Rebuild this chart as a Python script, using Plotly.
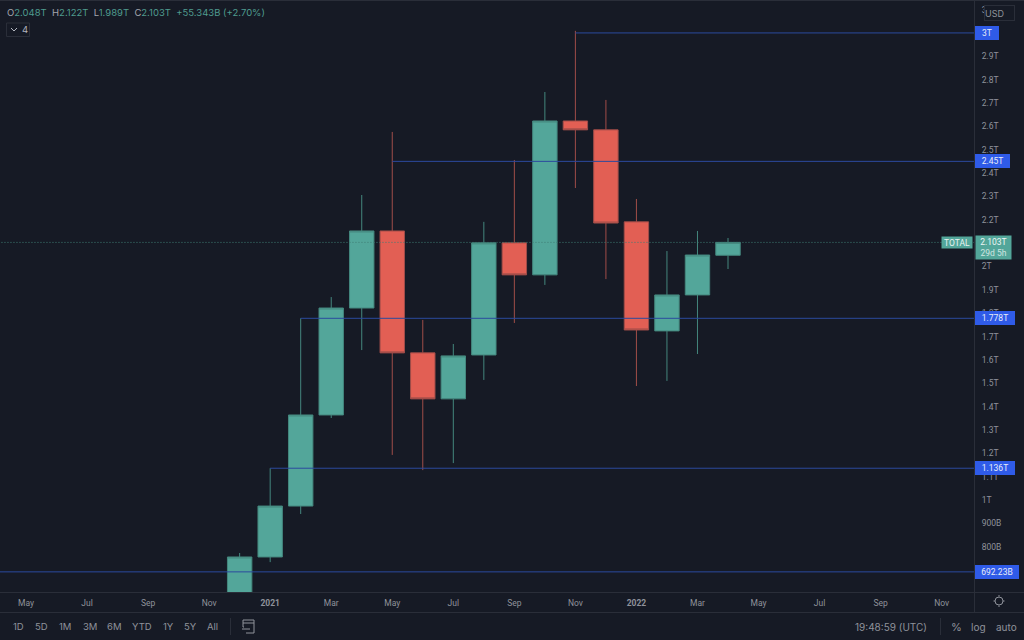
import plotly.graph_objects as go

# meses visibles en el eje
months = ["2020-04", "2020-05", "2020-06", "2020-07", "2020-08", "2020-09", "2020-10", "2020-11", "2020-12",
          "2021-01", "2021-02", "2021-03", "2021-04", "2021-05", "2021-06", "2021-07", "2021-08",
          "2021-09", "2021-10", "2021-11", "2021-12", "2022-01", "2022-02", "2022-03", "2022-04",
          "2022-05", "2022-06", "2022-07", "2022-08", "2022-09", "2022-10", "2022-11", "2022-12",
          "2023-01"]

# velas mensuales, en miles de millones (B)
candle_months = ["2020-12", "2021-01", "2021-02", "2021-03", "2021-04", "2021-05", "2021-06", "2021-07", "2021-08",
                 "2021-09", "2021-10", "2021-11", "2021-12", "2022-01", "2022-02", "2022-03", "2022-04"]
opens = [590, 756, 974, 1364, 1822, 2152, 1630, 1433, 1621, 2101, 1964, 2623, 2585, 2191, 1724, 1878, 2048]
highs = [773, 1136, 1778, 1869, 2306, 2576, 1771, 1668, 2191, 2456, 2747, 3009, 2713, 2289, 2066, 2152, 2122]
lows = [580, 734, 940, 1351, 1642, 1193, 1128, 1158, 1514, 1758, 1921, 2336, 1946, 1488, 1510, 1625, 1989]
closes = [756, 974, 1364, 1822, 2152, 1630, 1433, 1617, 2101, 1964, 2623, 2585, 2186, 1728, 1878, 2049, 2103]

# niveles horizontales
level_starts = ["2021-11", "2021-05", "2021-02", "2021-01", "2020-04"]
level_values = [3000, 2450, 1778, 1136, 692.23]
level_labels = ["3T", "2.45T", "1.778T", "1.136T", "692.23B"]
level_widths = [22, 33, 38, 38, 42]

# ejes
y_ticks = [800, 900, 1000, 1100, 1200, 1300, 1400, 1500, 1600, 1700, 1800, 1900, 2000,
           2200, 2300, 2400, 2500, 2600, 2700, 2800, 2900, 3000, 3100]
y_labels = ["800B", "900B", "1T", "1.1T", "1.2T", "1.3T", "1.4T", "1.5T", "1.6T", "1.7T", "1.8T", "1.9T", "2T",
            "2.2T", "2.3T", "2.4T", "2.5T", "2.6T", "2.7T", "2.8T", "2.9T", "3T", "3"]
x_ticks = ["2020-05", "2020-07", "2020-09", "2020-11", "2021-01", "2021-03", "2021-05", "2021-07",
           "2021-09", "2021-11", "2022-01", "2022-03", "2022-05", "2022-07", "2022-09", "2022-11"]
x_labels = ["May", "Jul", "Sep", "Nov", "<b>2021</b>", "Mar", "May", "Jul",
            "Sep", "Nov", "<b>2022</b>", "Mar", "May", "Jul", "Sep", "Nov"]

last_price = 2103
range_buttons = ["1D", "5D", "1M", "3M", "6M", "YTD", "1Y", "5Y", "All"]
range_button_x = [18, 41, 65, 90, 114, 142, 168, 190, 212]

BG = "#161a25"
BORDER = "#2a2e39"
GREEN = "#53a69a"
GREEN_W = "#44877e"
RED = "#e25f54"
RED_W = "#a04d49"
BLUE = "#2f5be8"
LEVEL = "#2b4a9e"
GREY = "#8f929b"
FONT = "Inter"
AXIS_FONT = "Roboto"

W, H = 1024, 640
PW, PH = 974, 592


def px(x):
    return x / PW


def py(y):
    return 1 - y / PH


fig = go.Figure()

fig.add_trace(go.Candlestick(
    x=candle_months, open=opens, high=highs, low=lows, close=closes,
    increasing=dict(fillcolor=GREEN, line=dict(color=GREEN_W, width=1)),
    decreasing=dict(fillcolor=RED, line=dict(color=RED_W, width=1)),
    whiskerwidth=0, showlegend=False,
))

# niveles
for start, val in zip(level_starts, level_values):
    fig.add_trace(go.Scatter(x=[start, months[-1]], y=[val, val], mode="lines",
                             line=dict(color=LEVEL, width=1), showlegend=False))

# precio actual
fig.add_trace(go.Scatter(x=[months[0], months[-1]], y=[last_price, last_price], mode="lines",
                         line=dict(color="#3f7d75", width=1, dash="1px,2px"), showlegend=False))


def note(x, y, text, color=GREY, size=9, anchor="left", family=FONT, **kw):
    fig.add_annotation(xref="paper", yref="paper", x=px(x), y=py(y), text=text, showarrow=False,
                       xanchor=anchor, yanchor="middle", font=dict(family=family, size=size, color=color), **kw)


def seg(x0, y0, x1, y1, color=BORDER, width=1):
    fig.add_shape(type="line", xref="paper", yref="paper", x0=px(x0), y0=py(y0), x1=px(x1), y1=py(y1),
                  line=dict(color=color, width=width), layer="above")


def poly(points, color=GREY, width=1):
    path = "M " + " L ".join(f"{px(a)} {py(b)}" for a, b in points)
    fig.add_shape(type="path", xref="paper", yref="paper", path=path, line=dict(color=color, width=width), layer="above")


# marcos
seg(0, 0.5, W, 0.5)
seg(PW + 0.5, 0, PW + 0.5, 612)
seg(0, PH + 0.5, W, PH + 0.5)
seg(0, 612.5, W, 612.5)

# etiquetas de nivel
for val, lab, w in zip(level_values, level_labels, level_widths):
    fig.add_annotation(xref="paper", yref="y", x=px(975), y=val, text=lab, showarrow=False,
                       xanchor="left", yanchor="middle", width=w, height=12, align="center",
                       bgcolor=BLUE, bordercolor=BLUE, borderpad=0,
                       font=dict(family=AXIS_FONT, size=8.5, color="#e8ecf8"))

# etiqueta TOTAL y precio
fig.add_annotation(xref="paper", yref="y", x=px(973), y=last_price, text="TOTAL", showarrow=False,
                   xanchor="right", yanchor="middle", width=30, height=11, bgcolor=GREEN, borderpad=0,
                   font=dict(family=AXIS_FONT, size=8.5, color="#e8f3f1"))
note(975, 248, "2.103T<br><span style='color:#cfe5e1'>29d 5h</span>", color="#eef6f4", size=8.5,
     family=AXIS_FONT, width=35, height=23, bgcolor=GREEN, align="center", borderpad=0)

# cabecera
g = "#4f9c8f"
header = (f"O<span style='color:{g}'>2.048T</span>  H<span style='color:{g}'>2.122T</span>  "
          f"L<span style='color:{g}'>1.989T</span>  C<span style='color:{g}'>2.103T</span>  "
          f"<span style='color:{g}'>+55.343B (+2.70%)</span>")
note(5, 13, header, color="#a3a6af", size=9.5)

# botón de indicadores
fig.add_shape(type="rect", xref="paper", yref="paper", x0=px(6.5), y0=py(23), x1=px(29.5), y1=py(36.5),
              line=dict(color=BORDER, width=1), layer="above")
poly([(11, 28), (14, 31), (17, 28)], color="#b2b5be")
note(20, 30, "4", color="#b2b5be", size=9.5)

# botón USD
fig.add_annotation(xref="paper", yref="paper", x=px(984.5), y=py(12.5), text="USD", showarrow=False,
                   xanchor="left", yanchor="middle", width=29, height=14, align="left", bgcolor=BG,
                   bordercolor=BORDER, borderpad=0, font=dict(family=FONT, size=9, color=GREY))
poly([(1007.5, 11.5), (1009.5, 13.5), (1011.5, 11.5)], color=GREY)

# barra inferior
for lab, x in zip(range_buttons, range_button_x):
    note(x, 626.5, lab, anchor="center", size=9.5)
seg(230.5, 618, 230.5, 635)
poly([(244, 627), (243, 627), (243, 620), (254, 620), (254, 633), (246, 633)], color=GREY)
seg(243, 623, 254, 623, color=GREY)
poly([(242, 629), (250, 629)], color=GREY)
note(891, 626.5, "19:48:59 (UTC)", anchor="center", size=10)
seg(940.5, 618, 940.5, 635)
note(956, 626.5, "%", anchor="center", size=11)
note(978, 626.5, "log", anchor="center", size=10)
note(1006, 626.5, "auto", anchor="center", size=10)

# icono de ajustes
fig.add_shape(type="circle", xref="paper", yref="paper", x0=px(995), y0=py(597), x1=px(1003), y1=py(605),
              line=dict(color=GREY, width=1), layer="above")
for a, b, c, d in [(999, 595, 999, 596.5), (999, 605.5, 999, 607), (993.5, 601, 995, 601), (1003, 601, 1004.5, 601)]:
    seg(a, b, c, d, color=GREY)

fig.update_layout(
    width=W, height=H,
    margin=dict(l=0, r=W - PW, t=0, b=H - PH, pad=0),
    paper_bgcolor=BG, plot_bgcolor=BG,
    showlegend=False, boxgap=0.2, boxgroupgap=0,
    font=dict(family=AXIS_FONT, size=8.5, color=GREY),
    xaxis=dict(type="category", categoryorder="array", categoryarray=months, range=[0.148, 32.06],
               rangeslider=dict(visible=False), showgrid=False, zeroline=False, showline=False,
               tickmode="array", tickvals=x_ticks, ticktext=x_labels, ticks="outside", ticklen=3,
               tickcolor=BG, tickfont=dict(family=AXIS_FONT, size=8.5, color=GREY)),
    yaxis=dict(side="right", range=[606, 3141], showgrid=False, zeroline=False, showline=False,
               tickmode="array", tickvals=y_ticks, ticktext=y_labels, ticks="outside", ticklen=5,
               tickcolor=BG, tickfont=dict(family=AXIS_FONT, size=8.5, color=GREY)),
)

fig.write_html("out.html", config=dict(displayModeBar=False),
               post_script="document.body.style.margin='0';document.body.style.overflow='hidden';")
